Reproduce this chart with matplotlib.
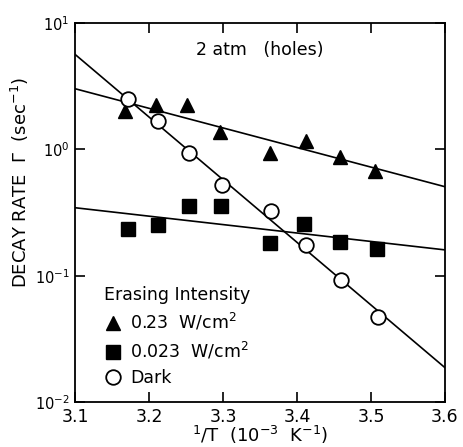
import matplotlib
matplotlib.use("Agg")
import matplotlib.pyplot as plt
from matplotlib.ticker import NullLocator, FixedLocator, LogFormatterMathtext, FormatStrFormatter

# Decay rate vs inverse temperature, 2 atm (holes)
inv_T_high = [3.168, 3.210, 3.252, 3.296, 3.364, 3.412, 3.458, 3.506]
rate_high = [2.01, 2.23, 2.23, 1.37, 0.94, 1.16, 0.875, 0.68]

inv_T_low = [3.171, 3.212, 3.254, 3.297, 3.364, 3.409, 3.458, 3.508]
rate_low = [0.233, 0.252, 0.356, 0.356, 0.182, 0.255, 0.185, 0.164]

inv_T_dark = [3.171, 3.212, 3.254, 3.298, 3.365, 3.412, 3.460, 3.510]
rate_dark = [2.49, 1.67, 0.93, 0.52, 0.325, 0.174, 0.092, 0.047]

# Fitted lines: values at the ends of the 1/T range
fit_x = [3.1, 3.6]
fit_high = [3.02, 0.506]
fit_low = [0.345, 0.160]
fit_dark = [5.65, 0.0187]

x_ticks = [3.1, 3.2, 3.3, 3.4, 3.5, 3.6]
y_ticks = [1e-2, 1e-1, 1e0, 1e1]

plt.rcParams['font.family'] = ['DejaVu Sans']
plt.rcParams['mathtext.fontset'] = 'dejavusans'

fig = plt.figure(figsize=(4.63, 4.47), dpi=100)
ax = fig.add_axes([0.162, 0.1007, 0.799, 0.8478])

ax.set_yscale('log')
ax.set_xlim(3.1, 3.6)
ax.set_ylim(1e-2, 1e1)

lw = 1.2
ax.plot(fit_x, fit_high, color='black', lw=lw)
ax.plot(fit_x, fit_low, color='black', lw=lw)
ax.plot(fit_x, fit_dark, color='black', lw=lw)

h1, = ax.plot(inv_T_high, rate_high, linestyle='none', marker='^', ms=10.5,
              color='black', label='0.23  W/cm$^2$')
h2, = ax.plot(inv_T_low, rate_low, linestyle='none', marker='s', ms=9.5,
              color='black', label='0.023  W/cm$^2$')
h3, = ax.plot(inv_T_dark, rate_dark, linestyle='none', marker='o', ms=10.5,
              markerfacecolor='white', markeredgecolor='black', mew=1.3,
              label='Dark', zorder=3)

ax.xaxis.set_major_locator(FixedLocator(x_ticks))
ax.xaxis.set_minor_locator(NullLocator())
ax.xaxis.set_major_formatter(FormatStrFormatter('%.1f'))
ax.yaxis.set_major_locator(FixedLocator(y_ticks))
ax.yaxis.set_major_formatter(LogFormatterMathtext())
ax.yaxis.set_minor_locator(NullLocator())

ax.tick_params(which='both', direction='in', top=True, right=True,
               length=7, width=1.2)
ax.tick_params(axis='x', pad=4, labelsize=12.5)
ax.tick_params(axis='y', pad=4, labelsize=10.5)
for s in ax.spines.values():
    s.set_linewidth(1.3)

ax.set_ylabel('DECAY RATE  \u0393  (sec$^{-1}$)', fontsize=13)
ax.yaxis.set_label_coords(-0.12, 0.58)
ax.set_xlabel('$^1$/T  (10$^{-3}$  K$^{-1}$)', fontsize=13)
ax.xaxis.set_label_coords(0.5, -0.058)

ax.text(0.5, 0.929, '2 atm   (holes)', transform=ax.transAxes,
        ha='center', va='center', fontsize=12.5)

leg = ax.legend(handles=[h1, h2, h3], title='Erasing Intensity',
                loc='upper left', bbox_to_anchor=(0.06, 0.325),
                frameon=False, fontsize=12.5, title_fontsize=12.5,
                handlelength=1.0, handletextpad=0.5, labelspacing=0.45,
                alignment='left', borderaxespad=0.0)

fig.savefig('out.png', dpi=100)
